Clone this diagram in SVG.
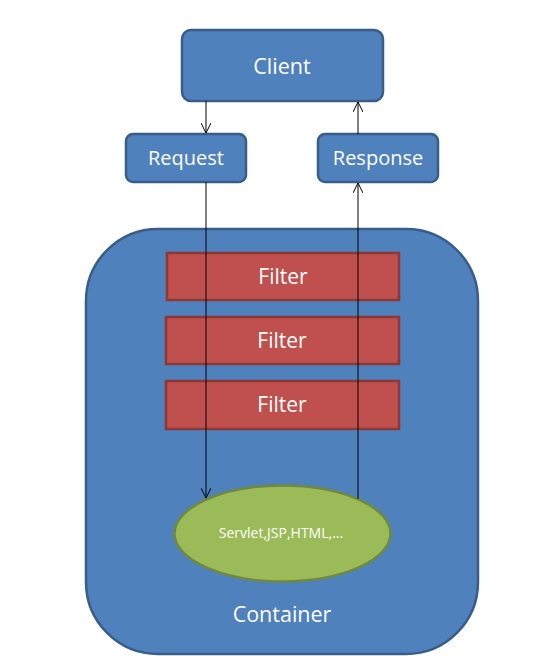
<svg xmlns="http://www.w3.org/2000/svg" width="535" height="667" viewBox="0 0 535 667">
<style>
.blue{fill:#4F81BD;stroke:#385D8A;stroke-width:2.5}
.red{fill:#C0504D;stroke:#8C3836;stroke-width:2.5}
.green{fill:#9BBB59;stroke:#71893F;stroke-width:2.5}
text{font-family:"Open Sans","Liberation Sans",sans-serif;fill:#fff;text-anchor:middle;dominant-baseline:central}
.c{stroke:#000;stroke-width:1;fill:none;marker-end:url(#arr)}
</style>
<defs>
<marker id="arr" viewBox="0 0 10 10" refX="10" refY="5" markerWidth="10" markerHeight="10" markerUnits="userSpaceOnUse" orient="auto">
<path d="M0,0 L10,5 L0,10" fill="none" stroke="#000" stroke-width="1"/>
</marker>
</defs>
<rect width="535" height="667" fill="#fff"/>
<g id="container">
<rect class="blue" x="86" y="229" width="392" height="425" rx="72" ry="72"/>
<text x="282" y="613" font-size="21.5">Container</text>
</g>
<g id="client">
<rect class="blue" x="182" y="30" width="201" height="71" rx="9"/>
<text x="282" y="65" font-size="21.5">Client</text>
</g>
<g id="request">
<rect class="blue" x="126" y="134" width="120" height="48" rx="7"/>
<text x="186" y="157" font-size="20">Request</text>
</g>
<g id="response">
<rect class="blue" x="318" y="134" width="120" height="48" rx="7"/>
<text x="378" y="157" font-size="20">Response</text>
</g>
<g id="filter1">
<rect class="red" x="167" y="253" width="232" height="47"/>
<text x="283" y="276" font-size="21">Filter</text>
</g>
<g id="filter2">
<rect class="red" x="166" y="317" width="233" height="47"/>
<text x="282" y="340" font-size="21">Filter</text>
</g>
<g id="filter3">
<rect class="red" x="166" y="381" width="233" height="48"/>
<text x="282" y="404" font-size="21">Filter</text>
</g>
<g id="servlet">
<ellipse class="green" cx="282.5" cy="533.5" rx="108" ry="48"/>
<text x="281" y="532" font-size="14">Servlet,JSP,HTML,...</text>
</g>
<g id="connectors">
<line class="c" x1="206" y1="101" x2="206" y2="133"/>
<line class="c" x1="206" y1="182" x2="206" y2="498"/>
<line class="c" x1="358" y1="499" x2="358" y2="183"/>
<line class="c" x1="358" y1="134" x2="358" y2="102"/>
</g>
</svg>
